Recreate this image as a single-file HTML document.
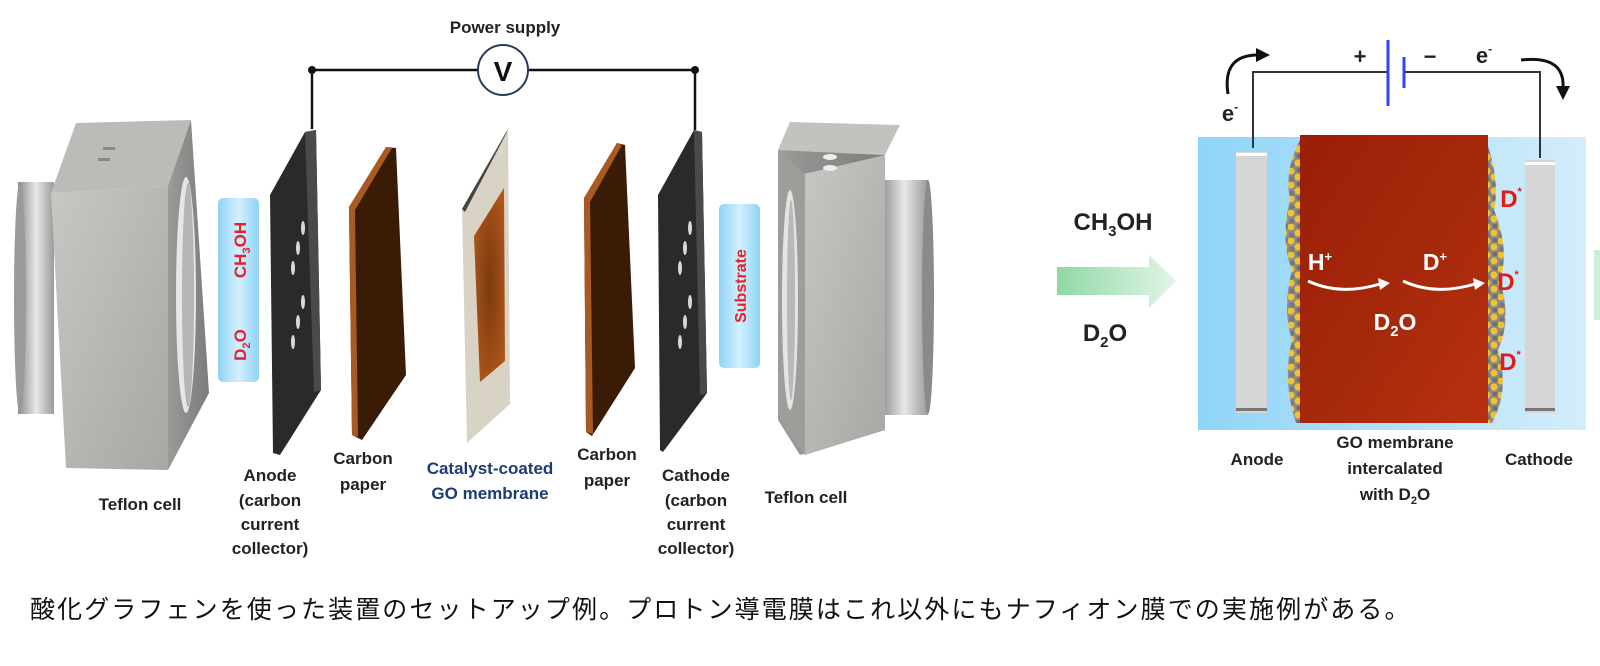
<!DOCTYPE html>
<html><head><meta charset="utf-8"><style>
html,body{margin:0;padding:0;background:#fff;}
svg{display:block;}
text{font-family:"Liberation Sans",Arial,sans-serif;}
</style></head><body>
<svg width="1600" height="666" viewBox="0 0 1600 666" xmlns="http://www.w3.org/2000/svg">
<defs>
<linearGradient id="ring" x1="0" y1="0" x2="1" y2="0"><stop offset="0" stop-color="#8a8a8a"/><stop offset="0.5" stop-color="#e8e8e8"/><stop offset="1" stop-color="#9a9a9a"/></linearGradient>
<linearGradient id="front" x1="0" y1="0" x2="1" y2="1"><stop offset="0" stop-color="#c9c7c4"/><stop offset="1" stop-color="#a9a7a4"/></linearGradient>
<linearGradient id="side" x1="0" y1="0" x2="1" y2="0"><stop offset="0" stop-color="#9b9a98"/><stop offset="1" stop-color="#7d7c7a"/></linearGradient>
<linearGradient id="blue" x1="0" y1="0" x2="1" y2="0"><stop offset="0" stop-color="#8fd3f7"/><stop offset="0.5" stop-color="#d4effc"/><stop offset="1" stop-color="#8fd3f7"/></linearGradient>
<linearGradient id="box" x1="0" y1="0" x2="1" y2="0"><stop offset="0" stop-color="#8fd4f8"/><stop offset="1" stop-color="#d4edfa"/></linearGradient>
<linearGradient id="mem" x1="0" y1="0" x2="1" y2="1"><stop offset="0" stop-color="#9a1e08"/><stop offset="0.6" stop-color="#a82a0c"/><stop offset="1" stop-color="#b83010"/></linearGradient>
<linearGradient id="garrow" x1="0" y1="0" x2="1" y2="0"><stop offset="0" stop-color="#8fd9a4"/><stop offset="1" stop-color="#e2f5e8"/></linearGradient>
<radialGradient id="orange" cx="0.5" cy="0.5" r="0.6"><stop offset="0" stop-color="#7a3a10"/><stop offset="1" stop-color="#b0561a"/></radialGradient>
<pattern id="mol" width="14" height="14" patternUnits="userSpaceOnUse">
<rect width="14" height="14" fill="#8a8a8a"/>
<circle cx="3" cy="3" r="3.5" fill="#f2c130"/><circle cx="10" cy="9" r="3.5" fill="#f2c130"/><circle cx="11" cy="2" r="2.5" fill="#6e6e6e"/><circle cx="4" cy="11" r="2.5" fill="#777"/>
</pattern>
</defs>

<!-- ===== Left Teflon cell ===== -->
<rect x="18" y="182" width="36" height="232" fill="url(#ring)"/>
<ellipse cx="20" cy="298" rx="6" ry="116" fill="#9a9a9a"/>
<polygon points="51,193 76,123 191,120 168,186" fill="#bdbbb8"/>
<polygon points="51,193 168,186 168,470 66,468" fill="url(#front)"/>
<polygon points="191,120 209,393 168,470 168,186" fill="url(#side)"/>
<ellipse cx="186" cy="295" rx="10" ry="118" fill="#e6e6e6"/>
<ellipse cx="188" cy="295" rx="6" ry="112" fill="#b5b5b5"/>
<rect x="103" y="147" width="12" height="3" fill="#888"/><rect x="98" y="158" width="12" height="3" fill="#888"/>

<!-- D2O/CH3OH strip -->
<rect x="218" y="198" width="41" height="184" rx="5" fill="url(#blue)"/>
<text transform="translate(246,250) rotate(-90)" text-anchor="middle" font-size="17" font-weight="bold" fill="#e8202a">CH<tspan font-size="11" dy="4">3</tspan><tspan dy="-4">OH</tspan></text>
<text transform="translate(246,345) rotate(-90)" text-anchor="middle" font-size="17" font-weight="bold" fill="#e8202a">D<tspan font-size="11" dy="4">2</tspan><tspan dy="-4">O</tspan></text>

<!-- Anode plate -->
<polygon points="270,195 305,132 316,130 321,390 280,455 273,453" fill="#2a2a2a"/>
<polygon points="305,132 316,130 321,390 314,392" fill="#4a4a4a"/>
<g fill="#d8d8d8"><ellipse cx="303" cy="228" rx="2" ry="7"/><ellipse cx="298" cy="248" rx="2" ry="7"/><ellipse cx="293" cy="268" rx="2" ry="7"/><ellipse cx="303" cy="302" rx="2" ry="7"/><ellipse cx="298" cy="322" rx="2" ry="7"/><ellipse cx="293" cy="342" rx="2" ry="7"/></g>

<!-- Carbon paper 1 -->
<polygon points="349,207 386,147 396,148 406,375 362,440 352,435" fill="#3a1c06"/>
<polygon points="349,207 386,147 392,148 355,210 358,437 352,435" fill="#a85a22"/>

<!-- Membrane -->
<polygon points="462,209 508,129 510,404 467,443" fill="#d8d3c4"/>
<polygon points="462,209 508,129 506,134 465,212" fill="#444"/>
<polygon points="474,236 504,188 505,361 480,382" fill="url(#orange)"/>

<!-- Carbon paper 2 -->
<polygon points="584,198 617,143 625,145 635,368 592,436 586,432" fill="#3a1c06"/>
<polygon points="584,198 617,143 622,145 590,202 593,434 586,432" fill="#a85a22"/>

<!-- Cathode plate -->
<polygon points="658,195 694,130 702,132 707,393 663,452 660,450" fill="#2a2a2a"/>
<polygon points="694,130 702,132 707,393 700,395" fill="#4a4a4a"/>
<g fill="#d8d8d8"><ellipse cx="690" cy="228" rx="2" ry="7"/><ellipse cx="685" cy="248" rx="2" ry="7"/><ellipse cx="680" cy="268" rx="2" ry="7"/><ellipse cx="690" cy="302" rx="2" ry="7"/><ellipse cx="685" cy="322" rx="2" ry="7"/><ellipse cx="680" cy="342" rx="2" ry="7"/></g>

<!-- Substrate strip -->
<rect x="719" y="204" width="41" height="164" rx="5" fill="url(#blue)"/>
<text transform="translate(746,286) rotate(-90)" text-anchor="middle" font-size="16" font-weight="bold" fill="#e8202a">Substrate</text>

<!-- Right Teflon cell -->
<rect x="880" y="180" width="48" height="235" fill="url(#ring)"/>
<ellipse cx="928" cy="297" rx="6" ry="117" fill="#8a8a8a"/>
<polygon points="778,150 790,122 900,125 885,155" fill="#c4c2bf"/>
<polygon points="778,150 885,155 885,430 800,455 778,420" fill="url(#side)"/>
<polygon points="800,175 885,155 885,430 805,455" fill="url(#front)"/>
<polygon points="778,150 805,175 805,455 778,420" fill="#9f9d9a"/>
<ellipse cx="790" cy="300" rx="8" ry="110" fill="#e4e4e4"/>
<ellipse cx="791" cy="300" rx="4" ry="100" fill="#b8b8b8"/>
<ellipse cx="830" cy="157" rx="7" ry="3" fill="#eee"/><ellipse cx="830" cy="168" rx="7" ry="3" fill="#eee"/>

<!-- Wire & V -->
<polyline points="312,129 312,70 695,70 695,130" fill="none" stroke="#111" stroke-width="2.5"/>
<circle cx="312" cy="70" r="4" fill="#111"/><circle cx="695" cy="70" r="4" fill="#111"/>
<circle cx="503" cy="70" r="25" fill="#fff" stroke="#2a3a5a" stroke-width="2"/>
<text x="503" y="81" text-anchor="middle" font-size="28" font-weight="bold" fill="#111">V</text>
<text x="505" y="33" text-anchor="middle" font-size="17" font-weight="bold" fill="#222">Power supply</text>

<!-- Left labels -->
<g font-size="17" font-weight="bold" fill="#222" text-anchor="middle">
<text x="140" y="510">Teflon cell</text>
<text x="270" y="481">Anode</text><text x="270" y="506">(carbon</text><text x="270" y="530">current</text><text x="270" y="554">collector)</text>
<text x="363" y="464">Carbon</text><text x="363" y="490">paper</text>
<text x="490" y="474" fill="#1e3a78">Catalyst-coated</text><text x="490" y="499" fill="#1e3a78">GO membrane</text>
<text x="607" y="460">Carbon</text><text x="607" y="486">paper</text>
<text x="696" y="481">Cathode</text><text x="696" y="506">(carbon</text><text x="696" y="530">current</text><text x="696" y="554">collector)</text>
<text x="806" y="503">Teflon cell</text>
</g>

<!-- ===== Right panel ===== -->
<text x="1113" y="230" text-anchor="middle" font-size="24" font-weight="bold" fill="#222">CH<tspan font-size="15" dy="6">3</tspan><tspan dy="-6">OH</tspan></text>
<polygon points="1057,267 1149,267 1149,255 1176,281 1149,308 1149,295 1057,295" fill="url(#garrow)"/>
<text x="1105" y="341" text-anchor="middle" font-size="24" font-weight="bold" fill="#222">D<tspan font-size="15" dy="6">2</tspan><tspan dy="-6">O</tspan></text>

<rect x="1198" y="137" width="388" height="293" fill="url(#box)"/>
<rect x="1236" y="152" width="31" height="261" fill="#d6d6d6"/>
<rect x="1236" y="153" width="31" height="3" fill="#fff"/><rect x="1236" y="408" width="31" height="3" fill="#777"/>
<rect x="1525" y="160" width="30" height="253" fill="#d6d6d6"/>
<rect x="1525" y="162" width="30" height="3" fill="#fff"/><rect x="1525" y="408" width="30" height="3" fill="#777"/>
<path d="M1300,140 Q1284,170 1290,200 Q1280,240 1292,270 Q1282,310 1292,340 Q1282,380 1296,423 L1300,423 Z" fill="url(#mol)"/>
<path d="M1486,140 Q1500,180 1494,210 Q1510,250 1500,280 Q1512,320 1498,350 Q1510,390 1492,423 L1486,423 Z" fill="url(#mol)"/>
<rect x="1300" y="135" width="188" height="288" fill="url(#mem)"/>

<polyline points="1253,148 1253,72 1388,72" fill="none" stroke="#333" stroke-width="2"/>
<polyline points="1404,72 1540,72 1540,158" fill="none" stroke="#333" stroke-width="2"/>
<line x1="1388" y1="40" x2="1388" y2="106" stroke="#3344ee" stroke-width="3"/>
<line x1="1404" y1="57" x2="1404" y2="88" stroke="#3344ee" stroke-width="3"/>
<text x="1360" y="64" text-anchor="middle" font-size="22" font-weight="bold" fill="#222">+</text>
<text x="1430" y="64" text-anchor="middle" font-size="22" font-weight="bold" fill="#222">−</text>
<text x="1484" y="63" text-anchor="middle" font-size="22" font-weight="bold" fill="#222">e<tspan font-size="12" dy="-10">-</tspan></text>
<text x="1230" y="121" text-anchor="middle" font-size="22" font-weight="bold" fill="#222">e<tspan font-size="12" dy="-10">-</tspan></text>
<path d="M1228,94 Q1222,55 1258,55" fill="none" stroke="#111" stroke-width="3"/>
<polygon points="1256,48 1270,55 1256,62" fill="#111"/>
<path d="M1521,60 Q1565,55 1563,88" fill="none" stroke="#111" stroke-width="3"/>
<polygon points="1556,86 1570,86 1563,100" fill="#111"/>

<g font-weight="bold" fill="#fff" font-size="23">
<text x="1320" y="270" text-anchor="middle">H<tspan font-size="13" dy="-9">+</tspan></text>
<text x="1435" y="270" text-anchor="middle">D<tspan font-size="13" dy="-9">+</tspan></text>
<text x="1395" y="330" text-anchor="middle">D<tspan font-size="15" dy="6">2</tspan><tspan dy="-6">O</tspan></text>
</g>
<path d="M1308,281 Q1340,296 1380,284" fill="none" stroke="#fff" stroke-width="3"/>
<polygon points="1378,278 1390,283 1380,290" fill="#fff"/>
<path d="M1403,281 Q1435,296 1475,284" fill="none" stroke="#fff" stroke-width="3"/>
<polygon points="1473,278 1485,283 1475,290" fill="#fff"/>
<g font-weight="bold" fill="#e41a1a" font-size="24">
<text x="1511" y="207" text-anchor="middle">D<tspan font-size="11" dy="-12">*</tspan></text>
<text x="1508" y="290" text-anchor="middle">D<tspan font-size="11" dy="-12">*</tspan></text>
<text x="1510" y="370" text-anchor="middle">D<tspan font-size="11" dy="-12">*</tspan></text>
</g>
<rect x="1594" y="250" width="6" height="70" fill="#cdeed6"/>

<g font-size="17" font-weight="bold" fill="#222" text-anchor="middle">
<text x="1257" y="465">Anode</text>
<text x="1395" y="448">GO membrane</text><text x="1395" y="474">intercalated</text>
<text x="1395" y="500">with D<tspan font-size="11" dy="4">2</tspan><tspan dy="-4">O</tspan></text>
<text x="1539" y="465">Cathode</text>
</g>

<text x="30" y="618" font-size="25" letter-spacing="2.1" fill="#111" style="font-family:'Liberation Sans','Noto Sans CJK JP',sans-serif">酸化グラフェンを使った装置のセットアップ例。プロトン導電膜はこれ以外にもナフィオン膜での実施例がある。</text>
</svg>
</body></html>
